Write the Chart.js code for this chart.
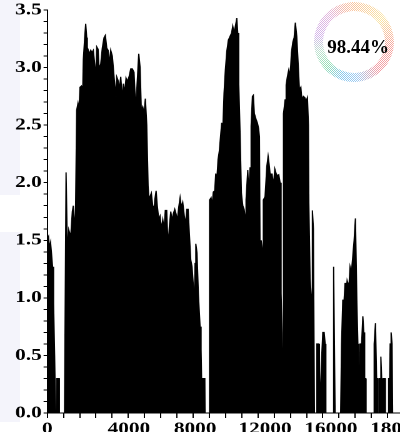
<!DOCTYPE html>
<html>
<head>
<meta charset="utf-8">
<script src="https://cdn.jsdelivr.net/npm/chart.js@4.4.1/dist/chart.umd.min.js"></script>
<style>
  html, body { margin: 0; padding: 0; background: #fff; }
  body { width: 400px; height: 432px; overflow: hidden; position: relative; }
  .band { position: absolute; left: 0; width: 20px; background: #f4f4fb; }
  #plot { position: absolute; left: 0; top: 0; transform: scaleX(1.25); transform-origin: 0 0; }
  #ring { position: absolute; left: 314px; top: 2px; }
  #ringLabel { position: absolute; left: 318px; top: 37px; width: 80px; text-align: center;
               font-weight: bold; font-size: 19px; line-height: 20px; color: #000;
               font-family: "Liberation Serif", Tinos, "Times New Roman", Times, "DejaVu Serif", serif; }
</style>
</head>
<body>
<div class="band" style="top:0;height:195px"></div>
<div class="band" style="top:232px;height:190px"></div>
<canvas id="plot" width="349" height="445"></canvas>
<canvas id="ring" width="80" height="80"></canvas>
<div id="ringLabel"></div>
<script>
// Profile along the sequence: position and value at each vertex of the filled outline
const positions = [
  0, 60, 110, 160, 210, 260, 310, 360, 405,
  455, 465, 590, 595,
  850, 925, 1000, 1060, 1155, 1235, 1285, 1355, 1395, 1450,
  1515, 1565, 1615, 1680, 1730, 1780, 1845, 1895, 1945, 1975,
  2025, 2085, 2145, 2205, 2270, 2340, 2390, 2440, 2505, 2555,
  2635, 2715, 2800, 2865, 2935, 3000, 3060, 3130, 3210, 3295,
  3380, 3425, 3490, 3555, 3625, 3705, 3755, 3820, 3885, 3950,
  4035, 4120, 4195, 4280, 4365, 4430, 4515, 4580, 4640, 4710,
  4775, 4840, 4910, 4975, 5020, 5070, 5135, 5205, 5235, 5305,
  5370, 5430, 5500, 5565, 5630, 5700, 5765, 5825, 5895, 5960,
  6025, 6095, 6160, 6220, 6290, 6355, 6420, 6490, 6555, 6615,
  6685, 6750, 6815, 6885, 6950, 7010, 7080, 7145, 7210, 7245,
  7295, 7330, 7390, 7455, 7540, 7590, 7615, 7775, 7785,
  8000, 8010, 8085, 8135, 8195, 8265, 8315, 8365, 8430, 8495,
  8565, 8610, 8660, 8725, 8790, 8860, 8940, 9020, 9095, 9155,
  9220, 9285, 9355, 9400, 9450, 9515, 9580, 9650, 9715, 9765,
  9810, 9895, 9945, 10010, 10060, 10125, 10170, 10220, 10305, 10370,
  10430, 10470, 10505, 10555, 10600, 10635, 10665, 10750, 10835, 10900,
  10950, 10995, 11045, 11095, 11160, 11230, 11295, 11360, 11425, 11490,
  11540, 11590, 11630,
  11655, 11665, 11740, 11790, 11850, 11920, 11985, 12050, 12120, 12185,
  12245, 12315, 12380, 12445, 12515, 12565, 12640, 12710, 12775, 12840,
  12890, 12910, 12970, 13035, 13085, 13135, 13185,
  13295, 13305, 13400, 13430, 13465, 13515, 13540, 13600, 13665, 13715, 13750,
  14085, 14135, 14205,
  14480, 14525, 14585, 14650, 14700, 14750, 14800, 14850, 14900, 14945,
  15010, 15080, 15145, 15210, 15280, 15330, 15370,
  15415, 15440, 15515, 15575, 15625, 15665, 15715, 15735,
  16120, 16135, 16200, 16255, 16305, 16315,
  16370, 16380, 16430, 16465, 16505, 16530,
  16570, 16580, 16675, 16690,
  16840, 16850, 16900, 16925, 16970, 17020, 17045
];
const heights = [
  1.50, 1.53, 1.43, 1.48, 1.38, 1.27, 0.95, 0.50, 0,
  0, 0.30, 0.30, 0,
  0, 2.09, 1.35, 1.59, 1.53, 1.75, 1.80, 1.57, 1.78, 2.63,
  2.69, 2.63, 2.83, 2.84, 2.63, 3.07, 3.26, 3.38, 3.26, 3.07,
  3.15, 3.12, 3.15, 3.13, 3.15, 3.03, 2.88, 3.18, 3.16, 2.99,
  3.03, 3.17, 3.26, 3.28, 3.17, 3.15, 3.03, 3.15, 3.10, 2.92,
  2.75, 2.92, 2.89, 2.81, 2.92, 2.72, 2.86, 2.78, 2.91, 2.88,
  2.92, 2.99, 2.99, 2.96, 2.63, 2.85, 3.12, 3.00, 2.63, 2.66,
  2.60, 2.73, 2.50, 1.97, 1.85, 1.88, 1.91, 1.80, 1.67, 1.85,
  1.93, 1.80, 1.68, 1.71, 1.60, 1.68, 1.60, 1.76, 1.76, 1.44,
  1.62, 1.75, 1.67, 1.73, 1.77, 1.73, 1.67, 1.79, 1.87, 1.79,
  1.83, 1.73, 1.63, 1.77, 1.77, 1.56, 1.33, 1.27, 1.10, 0.78,
  1.30, 1.47, 1.39, 1.04, 0.75, 0.55, 0.30, 0.30, 0,
  0, 1.85, 1.87, 1.80, 1.92, 1.93, 2.08, 2.02, 2.20, 2.28,
  2.43, 2.52, 2.43, 2.78, 2.98, 3.14, 3.24, 3.27, 3.30, 3.36,
  3.30, 3.36, 3.43, 3.30, 2.86, 2.43, 1.91, 1.80, 1.77, 1.70,
  1.85, 2.11, 1.91, 2.13, 2.49, 2.75, 2.76, 2.60, 2.55, 2.52,
  2.47, 2.40, 1.27, 1.50, 1.44, 1.33, 1.85, 1.88, 2.14, 2.23,
  2.16, 2.08, 1.99, 2.08, 1.97, 2.12, 2.08, 2.06, 2.07, 2.00,
  1.04, 0.70, 0,
  0, 2.60, 2.72, 2.85, 2.92, 2.98, 2.92, 3.13, 3.22, 3.26,
  3.39, 3.27, 3.04, 2.81, 2.83, 2.72, 2.75, 2.74, 2.71, 2.74,
  2.50, 1.82, 1.17, 1.00, 1.76, 1.60, 0,
  0, 0.60, 0.60, 0.47, 0, 0, 0.47, 0.70, 0.70, 0.60, 0,
  0, 1.27, 0,
  0, 0.60, 0.98, 0.98, 1.13, 1.05, 1.15, 1.12, 1.13, 1.27,
  1.22, 1.36, 1.50, 1.69, 0.98, 0.60, 0,
  0, 0.60, 0.60, 0.84, 0.70, 0.30, 0.30, 0,
  0, 0.60, 0.78, 0.30, 0.30, 0,
  0, 0.30, 0.30, 0.49, 0.30, 0,
  0, 0.30, 0.30, 0,
  0, 0.30, 0.30, 0.60, 0.70, 0.60, 0
];

// Axis labelling
const xTickLabels = ['0', '4000', '8000', '12000', '16000', '18000'];
const xLabelAt    = [0, 4030, 7300, 10750, 14000, 17250];
const yTickLabels = ['0.0', '0.5', '1.0', '1.5', '2.0', '2.5', '3.0', '3.5'];

// Share shown in the ring
const ringShare = [98.44, 1.56];

const X_MAX = 19200, X_STEP = 800, Y_MAX = 3.5, Y_STEP = 0.1;
const serif = '"Liberation Serif", Tinos, "Times New Roman", Times, "DejaVu Serif", serif';
const tickFont = { family: serif, size: 17, weight: 'bold', lineHeight: 1 };

new Chart(document.getElementById('plot'), {
  type: 'line',
  data: {
    datasets: [{
      data: positions.map((x, i) => ({ x, y: heights[i] })),
      xAxisID: 'x',
      yAxisID: 'y',
      fill: 'origin',
      backgroundColor: '#000',
      borderColor: '#000',
      borderWidth: 1,
      pointRadius: 0,
      tension: 0
    }]
  },
  options: {
    responsive: false,
    animation: false,
    devicePixelRatio: 2,
    events: [],
    layout: { padding: { top: 10, left: 0, right: 0, bottom: 0 } },
    plugins: { legend: { display: false }, tooltip: { enabled: false } },
    scales: {
      x: {
        type: 'linear', position: 'bottom', weight: 0,
        min: 0, max: X_MAX,
        afterBuildTicks: s => {
          const t = [];
          for (let v = 0; v <= X_MAX; v += X_STEP) t.push({ value: v });
          s.ticks = t;
        },
        afterFit: s => { s.height = 5; },
        ticks: { display: false },
        grid: { drawOnChartArea: false, drawTicks: true, tickLength: 5, color: '#000', lineWidth: 1 },
        border: { display: true, color: '#000', width: 1 }
      },
      xl: {
        type: 'linear', position: 'bottom', weight: 1,
        min: 0, max: X_MAX,
        afterBuildTicks: s => { s.ticks = xLabelAt.map(v => ({ value: v })); },
        afterFit: s => { s.height = 27; },
        ticks: {
          callback: (v, i) => xTickLabels[i],
          autoSkip: false, maxRotation: 0, minRotation: 0,
          padding: 2.5, color: '#000', font: tickFont
        },
        grid: { display: false, drawTicks: false },
        border: { display: false }
      },
      y: {
        type: 'linear', position: 'left',
        min: 0, max: Y_MAX,
        afterBuildTicks: s => {
          const t = [];
          for (let i = 0; i <= Math.round(Y_MAX / Y_STEP); i++) t.push({ value: +(i * Y_STEP).toFixed(1) });
          s.ticks = t;
        },
        afterFit: s => { s.width = 37.84; },
        ticks: {
          callback: v => {
            const k = v * 2;
            return Math.abs(k - Math.round(k)) < 1e-6 ? yTickLabels[Math.round(k)] : '';
          },
          autoSkip: false, padding: 1.5, color: '#000', font: tickFont
        },
        grid: { drawOnChartArea: false, drawTicks: true, tickLength: 3, color: '#000', lineWidth: 1 },
        border: { display: true, color: '#000', width: 1 }
      }
    }
  }
});

// Ring: a speckled pastel hue sweep, built as a canvas pattern
const RING = 80;
const hueStops = [
  [0, '#f6b27e'], [50, '#f7dc86'], [95, '#f2877c'], [140, '#ee7f8a'],
  [175, '#7db8ec'], [200, '#62b6e8'], [228, '#6fd39a'], [255, '#a8d8c0'],
  [280, '#c49be3'], [320, '#d9a0d0'], [345, '#f2a58a'], [360, '#f6b27e']
];
function hexRgb(h) { return [1, 3, 5].map(i => parseInt(h.substr(i, 2), 16)); }
function colourAt(deg) {
  for (let i = 1; i < hueStops.length; i++) {
    if (deg <= hueStops[i][0]) {
      const [a0, c0] = hueStops[i - 1], [a1, c1] = hueStops[i];
      const t = (deg - a0) / (a1 - a0), p = hexRgb(c0), q = hexRgb(c1);
      return p.map((v, j) => Math.round(v + (q[j] - v) * t));
    }
  }
  return hexRgb(hueStops[0][1]);
}
const tex = document.createElement('canvas');
tex.width = RING; tex.height = RING;
const tctx = tex.getContext('2d');
const img = tctx.createImageData(RING, RING);
for (let y = 0; y < RING; y++) {
  for (let x = 0; x < RING; x++) {
    const dx = x + 0.5 - RING / 2, dy = y + 0.5 - RING / 2;
    let deg = Math.atan2(dx, -dy) * 180 / Math.PI;
    if (deg < 0) deg += 360;
    const c = colourAt(deg).map(v => Math.round(v + (255 - v) * 0.25));
    const on = (x + y) % 2 === 0;
    const k = (y * RING + x) * 4;
    img.data[k]     = on ? c[0] : 255;
    img.data[k + 1] = on ? c[1] : 255;
    img.data[k + 2] = on ? c[2] : 255;
    img.data[k + 3] = 255;
  }
}
tctx.putImageData(img, 0, 0);
const ringPattern = document.getElementById('ring').getContext('2d').createPattern(tex, 'no-repeat');

new Chart(document.getElementById('ring'), {
  type: 'doughnut',
  data: {
    datasets: [{
      data: ringShare,
      backgroundColor: [ringPattern, ringPattern],
      borderWidth: 0,
      hoverOffset: 0,
      offset: 0
    }]
  },
  options: {
    responsive: false,
    animation: false,
    devicePixelRatio: 1,
    events: [],
    cutout: '77.5%',
    layout: { padding: 0 },
    plugins: { legend: { display: false }, tooltip: { enabled: false } }
  }
});
document.getElementById('ringLabel').textContent = ringShare[0].toFixed(2) + '%';
</script>
</body>
</html>
